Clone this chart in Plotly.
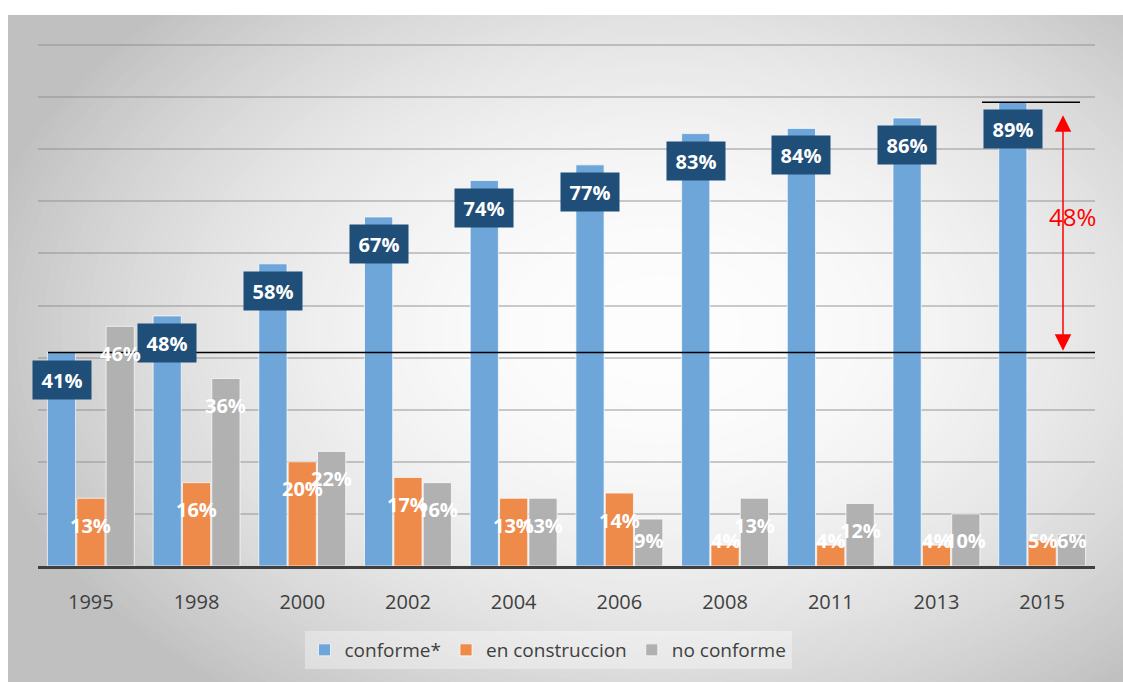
import plotly.graph_objects as go

# Data
years = ["1995", "1998", "2000", "2002", "2004", "2006", "2008", "2011", "2013", "2015"]
conforme = [41, 48, 58, 67, 74, 77, 83, 84, 86, 89]
en_construccion = [13, 16, 20, 17, 13, 14, 4, 4, 4, 5]
no_conforme = [46, 36, 22, 16, 13, 9, 13, 12, 10, 6]
series_names = ["conforme*", "en construccion", "no conforme"]

# Layout geometry (pixels)
W, H = 1123, 682
L, R, T, B = 38, 28, 44, 116
PW, PH = W - L - R, H - T - B


def px(x):
    return (x - L) / PW


def py(y):
    return (H - B - y) / PH


FONT = "Open Sans"
TXT = "#404040"
colors = ["#6FA6D9", "#EE8B4A", "#B1B1B1"]

fig = go.Figure()
for name, vals, col in zip(series_names, [conforme, en_construccion, no_conforme], colors):
    fig.add_trace(go.Bar(
        x=years,
        y=[v / 100 for v in vals],
        name=name,
        marker=dict(color=col, line=dict(color="rgba(255,255,255,0.7)", width=1)),
        hoverinfo="skip",
    ))

# Data labels (x given as category index, years look numeric)
slot = (1 - 0.167) * PW / len(years) / 3
drop = 0.052
for i, vals in enumerate([conforme, en_construccion, no_conforme]):
    for j, v in enumerate(vals):
        ypos = max(v / 100, 0.10) - drop
        a = dict(x=j, y=ypos, text=f"<b>{v}%</b>", showarrow=False,
                 xshift=(i - 1) * slot, yanchor="middle",
                 font=dict(family=FONT, size=20, color="white"))
        if i == 0:
            a.update(bgcolor="#1F4E79", width=46, height=26, borderpad=6)
        fig.add_annotation(**a)

# Gap annotation: lines + red double arrow
y_low, y_high = conforme[0] / 100, conforme[-1] / 100
fig.add_shape(type="line", xref="paper", yref="y", x0=px(48), x1=1.0,
              y0=y_low, y1=y_low, line=dict(color="black", width=1.5))
fig.add_shape(type="line", xref="paper", yref="y", x0=px(982), x1=px(1080),
              y0=y_high, y1=y_high, line=dict(color="black", width=1.5))
fig.add_annotation(x=px(1063), xref="paper", y=y_low + 0.003, yref="y",
                   ax=0, axref="pixel", ay=y_high - 0.022, ayref="y",
                   text="", showarrow=True, arrowside="end+start",
                   arrowhead=2, startarrowhead=2, arrowsize=2.2, startarrowsize=2.2,
                   arrowwidth=1.5, arrowcolor="red")
fig.add_annotation(x=px(1098), xref="paper", y=0.67, yref="y",
                   text=f"{conforme[-1] - conforme[0]}%", showarrow=False,
                   font=dict(family=FONT, size=24, color="red"))

# Background: radial gradient built from concentric ellipses
cx, cy, rx, ry = 660, 330, 680, 450
shapes = [dict(type="rect", xref="paper", yref="paper", layer="below",
               x0=px(8), x1=px(W + 5), y0=py(15), y1=py(H + 5),
               fillcolor="rgb(192,192,192)", line=dict(width=0))]
n = 120
for k in range(n, 0, -1):
    r = 1.6 * k / n
    c = int(max(192, 254 - 58 * r * r))
    shapes.append(dict(type="circle", xref="paper", yref="paper", layer="below",
                       x0=px(cx - rx * r), x1=px(cx + rx * r),
                       y0=py(cy + ry * r), y1=py(cy - ry * r),
                       fillcolor=f"rgb({c},{c},{c})", line=dict(width=0)))
shapes.append(dict(type="rect", xref="paper", yref="paper", layer="below",
                   x0=px(-20), x1=px(W + 20), y0=py(15), y1=py(-40),
                   fillcolor="white", line=dict(width=0)))
shapes.append(dict(type="rect", xref="paper", yref="paper", layer="below",
                   x0=px(-20), x1=px(8), y0=py(H + 20), y1=py(-40),
                   fillcolor="white", line=dict(width=0)))
for s in shapes:
    fig.add_shape(**s)

fig.update_layout(
    width=W, height=H,
    margin=dict(l=L, r=R, t=T, b=B),
    barmode="group", bargap=0.167, bargroupgap=0.04,
    paper_bgcolor="white", plot_bgcolor="rgba(0,0,0,0)",
    font=dict(family=FONT, color=TXT),
    showlegend=True,
    legend=dict(orientation="h", x=px(548), xanchor="center", y=py(650), yanchor="middle",
                bgcolor="rgba(255,255,255,0.35)", font=dict(size=19, color=TXT),
                itemclick=False),
)
fig.update_xaxes(type="category", range=[-0.5, len(years) - 0.5],
                 showline=True, linecolor=TXT, linewidth=3, showgrid=False,
                 ticks="outside", ticklen=16, tickcolor="rgba(0,0,0,0)",
                 tickfont=dict(size=20, color=TXT), fixedrange=True)
fig.update_yaxes(range=[0, 1.002], dtick=0.1, showticklabels=False, zeroline=False,
                 gridcolor="rgba(140,140,140,0.45)", gridwidth=1.5, fixedrange=True)

fig.write_html("out.html", config={"displayModeBar": False},
               post_script="document.body.style.margin='0';document.body.style.overflow='hidden';")
